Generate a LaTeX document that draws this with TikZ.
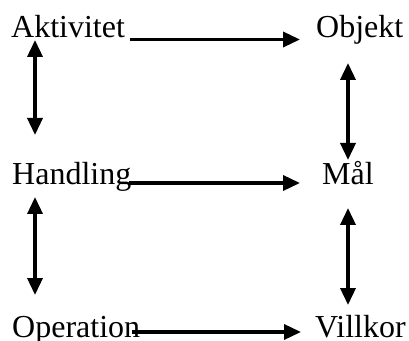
\documentclass[tikz,border=0pt]{standalone}
\usepackage{fontspec}
\setmainfont{Liberation Serif}
\usetikzlibrary{arrows.meta}
\begin{document}
\begin{tikzpicture}[x=1pt,y=1pt,
  lbl/.style={anchor=base west,inner sep=0pt,font=\fontsize{32}{38}\selectfont},
  arr/.style={line width=3.5pt,-{Triangle[length=17pt,width=15pt]}},
  darr/.style={line width=3.5pt,{Triangle[length=17pt,width=15pt]}-{Triangle[length=17pt,width=15pt]}}]
\useasboundingbox (0,0) rectangle (409,340);
\node[lbl] (akt) at (11,302) {Aktivitet};
\node[lbl] (obj) at (316,302) {Objekt};
\node[lbl] (han) at (12,155) {Handling};
\node[lbl] (mal) at (322,155) {Mål};
\node[lbl] (ope) at (12,3) {Operation};
\node[lbl] (vil) at (315,3) {Villkor};
% horizontal arrow ends
\coordinate (h1s) at (130,300.5); \coordinate (h1e) at (300,300.5);
\coordinate (h2s) at (129,157);   \coordinate (h2e) at (300,157);
\coordinate (h3s) at (132,8);     \coordinate (h3e) at (301,8);
% vertical arrow ends
\coordinate (l1a) at (35,300); \coordinate (l1b) at (35,205);
\coordinate (l2a) at (35,143); \coordinate (l2b) at (35,45);
\coordinate (r1a) at (348,277); \coordinate (r1b) at (348,180);
\coordinate (r2a) at (348,132); \coordinate (r2b) at (348,35);
\draw[arr] (h1s) -- (h1e);
\draw[arr] (h2s) -- (h2e);
\draw[arr] (h3s) -- (h3e);
\draw[darr] (l1a) -- (l1b);
\draw[darr] (l2a) -- (l2b);
\draw[darr] (r1a) -- (r1b);
\draw[darr] (r2a) -- (r2b);
\end{tikzpicture}
\end{document}
